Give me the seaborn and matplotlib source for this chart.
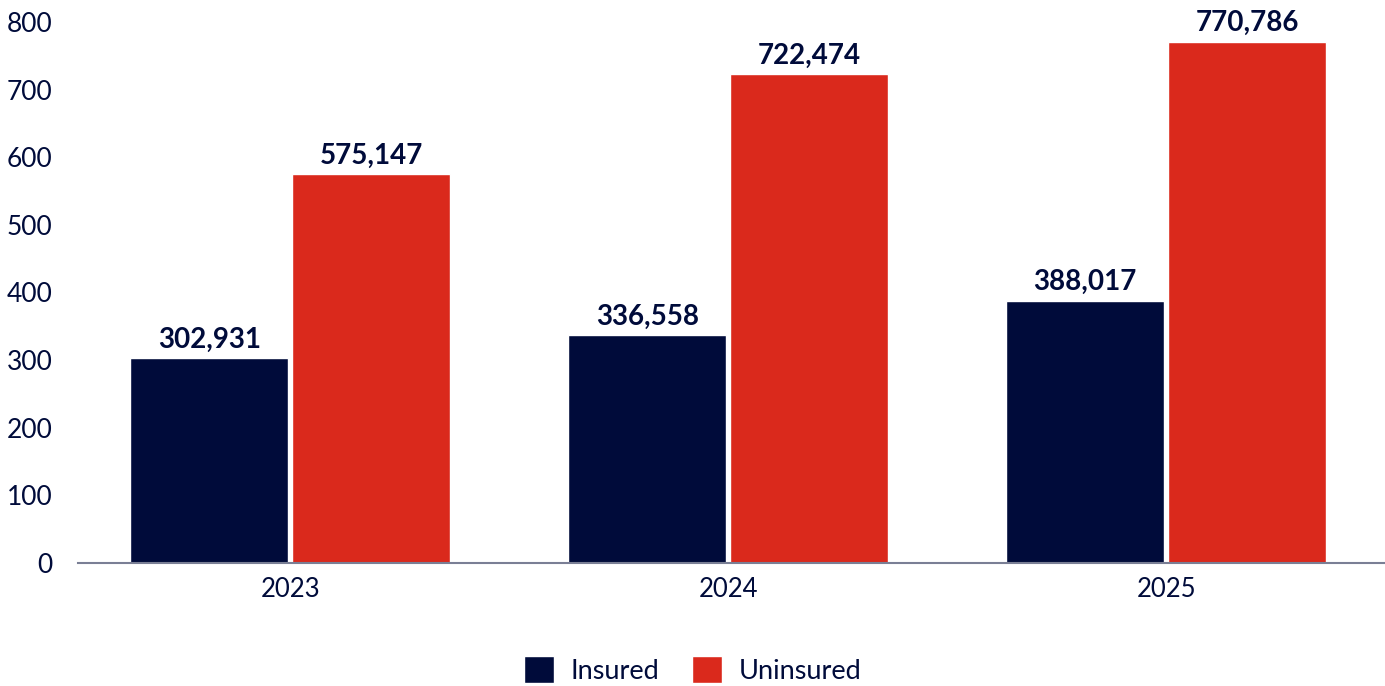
import matplotlib
matplotlib.use("Agg")
import matplotlib.pyplot as plt
import seaborn as sns
import pandas as pd
from matplotlib.patches import Patch

years = ["2023", "2024", "2025"]
series = ["Insured", "Uninsured"]
insured = [302931, 336558, 388017]
uninsured = [575147, 722474, 770786]
yticks = [0, 100, 200, 300, 400, 500, 600, 700, 800]

NAVY = "#000B3A"
RED = "#DA291C"

df = pd.DataFrame({
    "year": years * 2,
    "status": [series[0]] * 3 + [series[1]] * 3,
    "value": insured + uninsured,
})
df["k"] = df["value"] / 1000

sns.set_theme(style="white")
plt.rcParams["font.family"] = ["Lato", "DejaVu Sans"]

fig = plt.figure(figsize=(13.85, 6.86), dpi=100)
ax = fig.add_axes([78 / 1385, (686 - 563) / 686, 1 - 78 / 1385, (563 - 22) / 686])

sns.barplot(data=df, x="year", y="k", hue="status", order=years, hue_order=series,
            palette=[NAVY, RED], width=0.74, gap=0.025, saturation=1, ax=ax, legend=False)

ax.set_ylim(0, 800)
ax.set_xlim(-0.485, 2.5)
ax.set_yticks(yticks)
ax.set_yticklabels([str(t) for t in yticks])
ax.set_xlabel("")
ax.set_ylabel("")
ax.tick_params(axis="y", length=0, pad=18.5, labelsize=19, labelcolor=NAVY)
ax.tick_params(axis="x", length=0, pad=10, labelsize=18.5, labelcolor=NAVY)
for s in ["top", "right", "left"]:
    ax.spines[s].set_visible(False)
ax.spines["bottom"].set_color("#7A7F95")
ax.spines["bottom"].set_linewidth(1.5)

vals = [insured, uninsured]
for cont, v in zip(ax.containers, vals):
    ax.bar_label(cont, labels=[f"{x:,}" for x in v], padding=4, fontsize=20,
                 fontweight="bold", color=NAVY)

handles = [Patch(facecolor=NAVY, label=series[0]), Patch(facecolor=RED, label=series[1])]
fig.legend(handles=handles, loc="center", bbox_to_anchor=(0.5, 16 / 686), ncol=2,
           frameon=False, fontsize=19.5, handlelength=1.12, handleheight=1.12,
           handletextpad=0.6, columnspacing=1.2, labelcolor=NAVY)

fig.savefig("out.png", dpi=100)
